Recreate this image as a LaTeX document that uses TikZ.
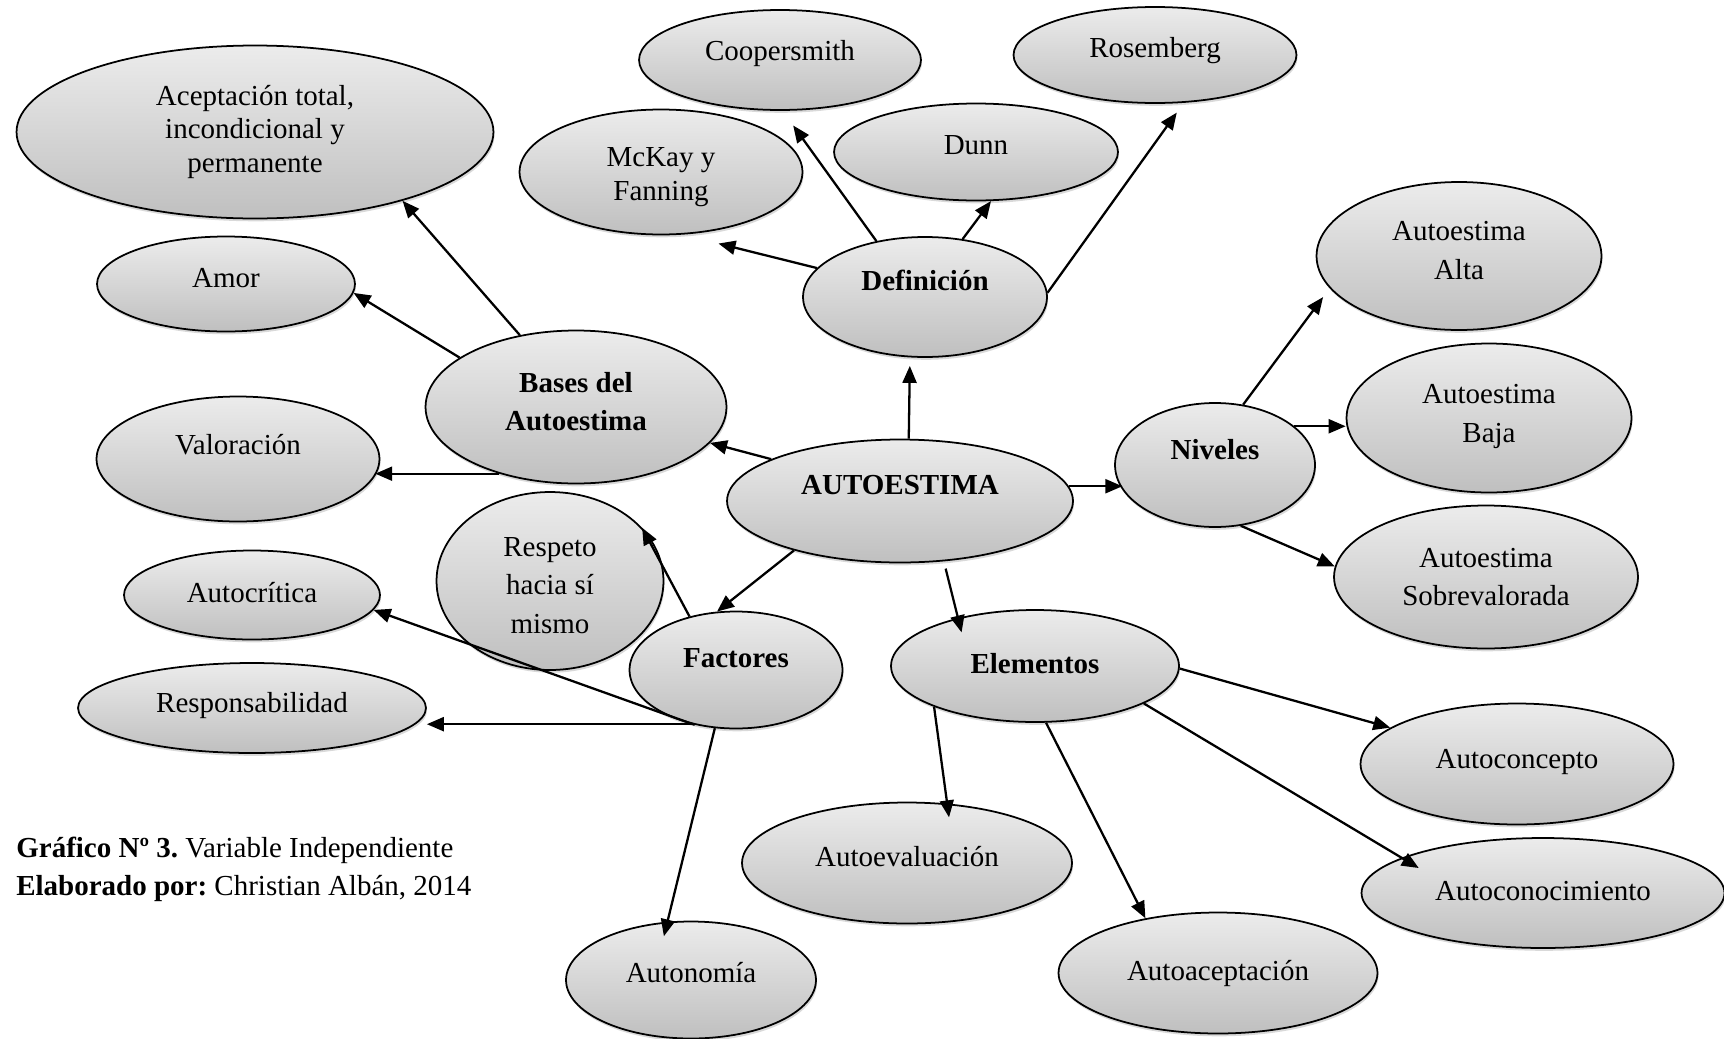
\documentclass[tikz,border=0pt]{standalone}
\usepackage{fontspec}
\setmainfont{Liberation Serif}
\usetikzlibrary{shapes.geometric, arrows.meta, shadows}

\begin{document}
\begin{tikzpicture}[x = 0.02cm, y = -0.02cm, lift/.style = {text height = 0.41cm, text depth = #1}]
        \tikzstyle{main} = [ellipse, draw = black, line width = 1pt, inner sep = 0pt, align = center, top color = gray!15, bottom color = gray!50, drop shadow = {shadow xshift = 0.6pt, shadow yshift = -1.6pt, opacity = 0.3}, font = \fontsize{16.5}{19.3}\selectfont]
        \tikzstyle{hub} = [main, font = \fontsize{16.5}{19.3}\selectfont\bfseries]
        \tikzstyle{loose} = [font = \fontsize{16.5}{21.9}\selectfont]
        \tikzstyle{connect} = [-{Triangle[length = 0.34cm, width = 0.28cm]}, line width = 1.3pt]
        \useasboundingbox (0, 0) rectangle (1724, 1038);
        % centre
        \node[hub, lift = 0.68cm, minimum width = 6.92cm, minimum height = 2.46cm] (auto) at (900, 501) {AUTOESTIMA};
        % bases
        \node[hub, minimum width = 6.02cm, minimum height = 3.06cm, font = \fontsize{16.5}{21.9}\selectfont\bfseries] (bases) at (576, 407) {Bases del\\Autoestima\rule[-0.22cm]{0pt}{0pt}};
        \node[main, minimum width = 9.54cm, minimum height = 3.46cm] (acept) at (255, 132) {Aceptación total,\\incondicional y\\permanente};
        \node[main, lift = 0.28cm, minimum width = 5.16cm, minimum height = 1.9cm] (amor) at (226, 284) {Amor};
        \node[main, lift = 0.6cm, minimum width = 5.66cm, minimum height = 2.5cm] (valor) at (238, 459) {Valoración};
        % definicion
        \node[hub, lift = 0.68cm, minimum width = 4.88cm, minimum height = 2.4cm] (def) at (925, 297) {Definición};
        \node[main, minimum width = 5.66cm, minimum height = 2.5cm] (mckay) at (661, 172) {\rule{0pt}{0.58cm}McKay y\\Fanning};
        \node[main, lift = 0.4cm, minimum width = 5.64cm, minimum height = 2cm] (coop) at (780, 60) {Coopersmith};
        \node[main, lift = 0.32cm, minimum width = 5.68cm, minimum height = 1.94cm] (dunn) at (976, 152) {Dunn};
        \node[main, lift = 0.32cm, minimum width = 5.66cm, minimum height = 1.92cm] (rosem) at (1155, 55) {Rosemberg};
        % niveles
        \node[hub, lift = 0.64cm, minimum width = 4cm, minimum height = 2.48cm] (niv) at (1215, 465) {Niveles};
        \node[main, loose, minimum width = 5.7cm, minimum height = 2.96cm] (alta) at (1459, 256) {Autoestima\\Alta\rule[-0.22cm]{0pt}{0pt}};
        \node[main, loose, minimum width = 5.7cm, minimum height = 2.98cm] (baja) at (1489, 418) {Autoestima\\Baja\rule[-0.18cm]{0pt}{0pt}};
        \node[main, loose, minimum width = 6.08cm, minimum height = 2.86cm] (sobre) at (1486, 577) {Autoestima\\Sobrevalorada};
        % factores
        \node[hub, lift = 0.52cm, minimum width = 4.26cm, minimum height = 2.34cm] (fact) at (736, 670) {Factores};
        \node[main, loose, minimum width = 4.54cm, minimum height = 3.56cm] (respeto) at (550, 581) {\rule{0pt}{0.55cm}Respeto\\hacia sí\\mismo};
        \node[main, lift = 0.12cm, minimum width = 5.12cm, minimum height = 1.78cm] (critica) at (252, 595) {Autocrítica};
        \node[main, lift = 0.24cm, minimum width = 6.96cm, minimum height = 1.8cm] (resp) at (252, 708) {Responsabilidad};
        \node[main, lift = 0.32cm, minimum width = 5cm, minimum height = 2.34cm] (auton) at (691, 980) {Autonomía};
        % elementos
        \node[hub, lift = 0.12cm, minimum width = 5.76cm, minimum height = 2.24cm] (elem) at (1035, 666) {Elementos};
        \node[main, lift = 0.24cm, minimum width = 6.26cm, minimum height = 2.42cm] (concepto) at (1517, 764) {Autoconcepto};
        \node[main, lift = 0.12cm, minimum width = 7.26cm, minimum height = 2.2cm] (conoc) at (1543, 893) {Autoconocimiento};
        \node[main, lift = 0.28cm, minimum width = 6.6cm, minimum height = 2.42cm] (eval) at (907, 863) {Autoevaluación};
        \node[main, lift = 0.12cm, minimum width = 6.38cm, minimum height = 2.42cm] (acepta) at (1218, 973) {Autoaceptación};
        \node[anchor = west, align = left, inner sep = 0pt, font = \fontsize{16.5}{21.5}\selectfont\frenchspacing] (caption) at (16, 869) {\textbf{Gráfico Nº 3.} Variable Independiente\\\textbf{Elaborado por:} Christian Albán, 2014};
        % arrows
        \path (auto.162) edge [connect] (bases.345)
              (auto.82) edge [connect, shorten > = 0.17cm] (def.256)
              (auto.5) edge [connect] (auto.5 -| niv.195)
              (auto.306) edge [connect, shorten < = 0.15cm, shorten > = -0.3cm] (elem.148)
              (auto.205) edge [connect] (fact.108);
        \path (bases.128) edge [connect] (acept.335)
              (bases.157) edge [connect] (amor.356)
              (bases.221) edge [connect] (bases.221 -| valor.353);
        \path (def.165) edge [connect, shorten > = 0.74cm] (mckay.289)
              (def.131) edge [connect, shorten > = 0.36cm] (coop.273)
              (def.57) edge [connect] (dunn.287)
              (def.2) edge [connect, shorten > = 0.24cm] (rosem.301);
        \path (niv.65) edge [connect, shorten > = 0.22cm] (alta.194)
              (niv.26) edge [connect] (niv.26 -| baja.west)
              (niv.293) edge [connect] (sobre.176);
        \path (fact.131) edge [connect] (respeto.30)
              (fact.233) edge [connect] (critica.353)
              (fact.231) edge [connect] (fact.231 -| resp.east)
              (fact.250) edge [connect, shorten > = -0.3cm] (auton.112);
        \path (elem.202) edge [connect, shorten > = -0.28cm] (eval.56)
              (elem.281) edge [connect] (acepta.143)
              (elem.359) edge [connect] (concepto.164)
              (elem.341) edge [connect, shorten > = -0.4cm] (conoc.166);
\end{tikzpicture}
\end{document}
